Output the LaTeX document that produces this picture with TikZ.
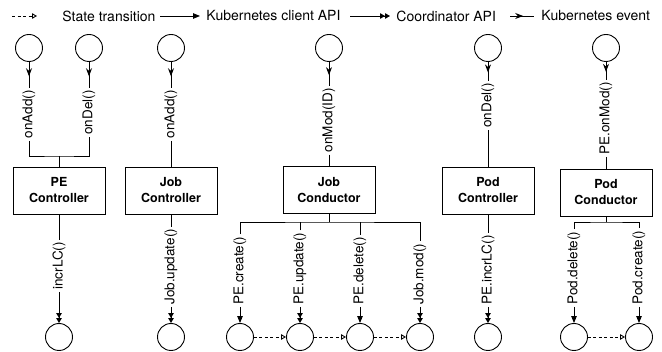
\documentclass[tikz,border=0pt]{standalone}
\usepackage{fontspec}
\setmainfont{TeX Gyre Heros}
\usetikzlibrary{arrows.meta,decorations.markings}

\begin{document}
\begin{tikzpicture}[x=1pt, y=-1pt, line width=0.9pt,
		state/.style={circle, draw, inner sep=0mm, minimum size=27pt},
		comp/.style={draw, minimum width=92pt, minimum height=47pt, align=center,
			font=\fontsize{12.5}{16}\selectfont\bfseries},
		call/.style={rotate=90, inner sep=2pt, font=\fontsize{13.5}{16}\selectfont},
		legend/.style={inner sep=0pt, font=\fontsize{14}{16}\selectfont},
		trans/.style={dash pattern=on 3pt off 2.5pt, -{Triangle[open, length=5pt, width=5.5pt]}},
		kapi/.style={-{Triangle[length=7pt, width=5.5pt]}},
		capi/.style={-{Triangle[length=5pt, width=5.5pt] Triangle[length=5pt, width=5.5pt]}},
		kev/.style={postaction={decorate}, decoration={markings,
				mark=at position 0.55 with {\arrow{Stealth[length=8pt, width=6pt]}}}}]
		\useasboundingbox (0,0) rectangle (662,352);
		%\draw[help lines, step=20] (0,0) grid (662,352);
		
		% legend
		\foreach \n\s\a\b\t\x in {1/trans/12/37/State transition/62,
			2/kapi/160/200/Kubernetes client API/206,
			3/capi/350/390/Coordinator API/396,
			4/kev/510/534/Kubernetes event/541}
		{
			\coordinate (a\n) at (\a,16);
			\coordinate (b\n) at (\b,16);
			\draw[\s] (a\n) -- (b\n);
			\node[legend, anchor=west] (leg\n) at (\x,16) {\t};
		}
		
		\foreach \n\x in {1/29, 2/89, 3/171, 4/329, 5/488, 6/606}
		\node[state] (s\n) at (\x,48) {};
		
		\node[comp] (pec) at (59,190.5) {PE\\Controller};
		\node[comp] (jobc) at (171,190.5) {Job\\Controller};
		\node[comp] (jobd) at (329,190) {Job\\Conductor};
		\node[comp] (podc) at (488,190.5) {Pod\\Controller};
		\node[comp] (podd) at (606,192.5) {Pod\\Conductor};
		
		\foreach \n\x\y\t in {1/29/88/onAdd(), 2/89/88/onDel(), 3/171/88/onAdd(),
			4/329/86/onMod(ID), 5/488/81/onDel(), 6/606/80/PE.onMod()}
		\node[call, anchor=east] (e\n) at (\x,\y) {\t};
		
		\foreach \n\x\y\t in {1/59/292/incrLC(), 2/171/307/Job.update(),
			3/240/307/PE.create(), 4/300/307/PE.update(), 5/360/307/PE.delete(),
			6/420/307/Job.mod(), 7/488/307/PE.incrLC(), 8/574/307/Pod.delete(),
			9/639/307/Pod.create()}
		\node[call, anchor=west] (w\n) at (\x,\y) {\t};
		
		\foreach \n\x in {1/59, 2/171, 3/240, 4/300, 5/360, 6/420, 7/488, 8/574, 9/639}
		\node[state] (t\n) at (\x,337) {};
		
		% events into the controllers
		\foreach \n in {1,...,6}
		\draw[kev] (s\n) -- (e\n);
		
		\coordinate (jpe) at (59,156);
		\draw (e1) |- (jpe) -| (e2);
		\draw (jpe) -- (pec);
		\draw (e3) -- (jobc);
		\draw (e4) -- (jobd);
		\draw (e5) -- (podc);
		\draw (e6) -- (podd);
		
		% calls out of the controllers
		\draw (pec) -- (w1);
		\draw (jobc) -- (w2);
		\draw (podc) -- (w7);
		
		\coordinate (jjd) at (329,222);
		\draw (jobd) -- (jjd);
		\draw (w3) |- (jjd) -| (w6);
		\foreach \n in {4,5}
		\draw (w\n) -- (w\n |- jjd);
		
		\coordinate (jpd) at (606,222);
		\draw (podd) -- (jpd);
		\draw (w8) |- (jpd) -| (w9);
		
		\foreach \n\s in {1/capi, 2/capi, 3/kapi, 4/capi, 5/kapi,
			6/capi, 7/capi, 8/kapi, 9/kapi}
		\draw[\s] (w\n) -- (t\n);
		
		\foreach \a\b in {3/4, 4/5, 5/6, 8/9}
		\draw[trans] (t\a) -- (t\b);
	\end{tikzpicture}
\end{document}
